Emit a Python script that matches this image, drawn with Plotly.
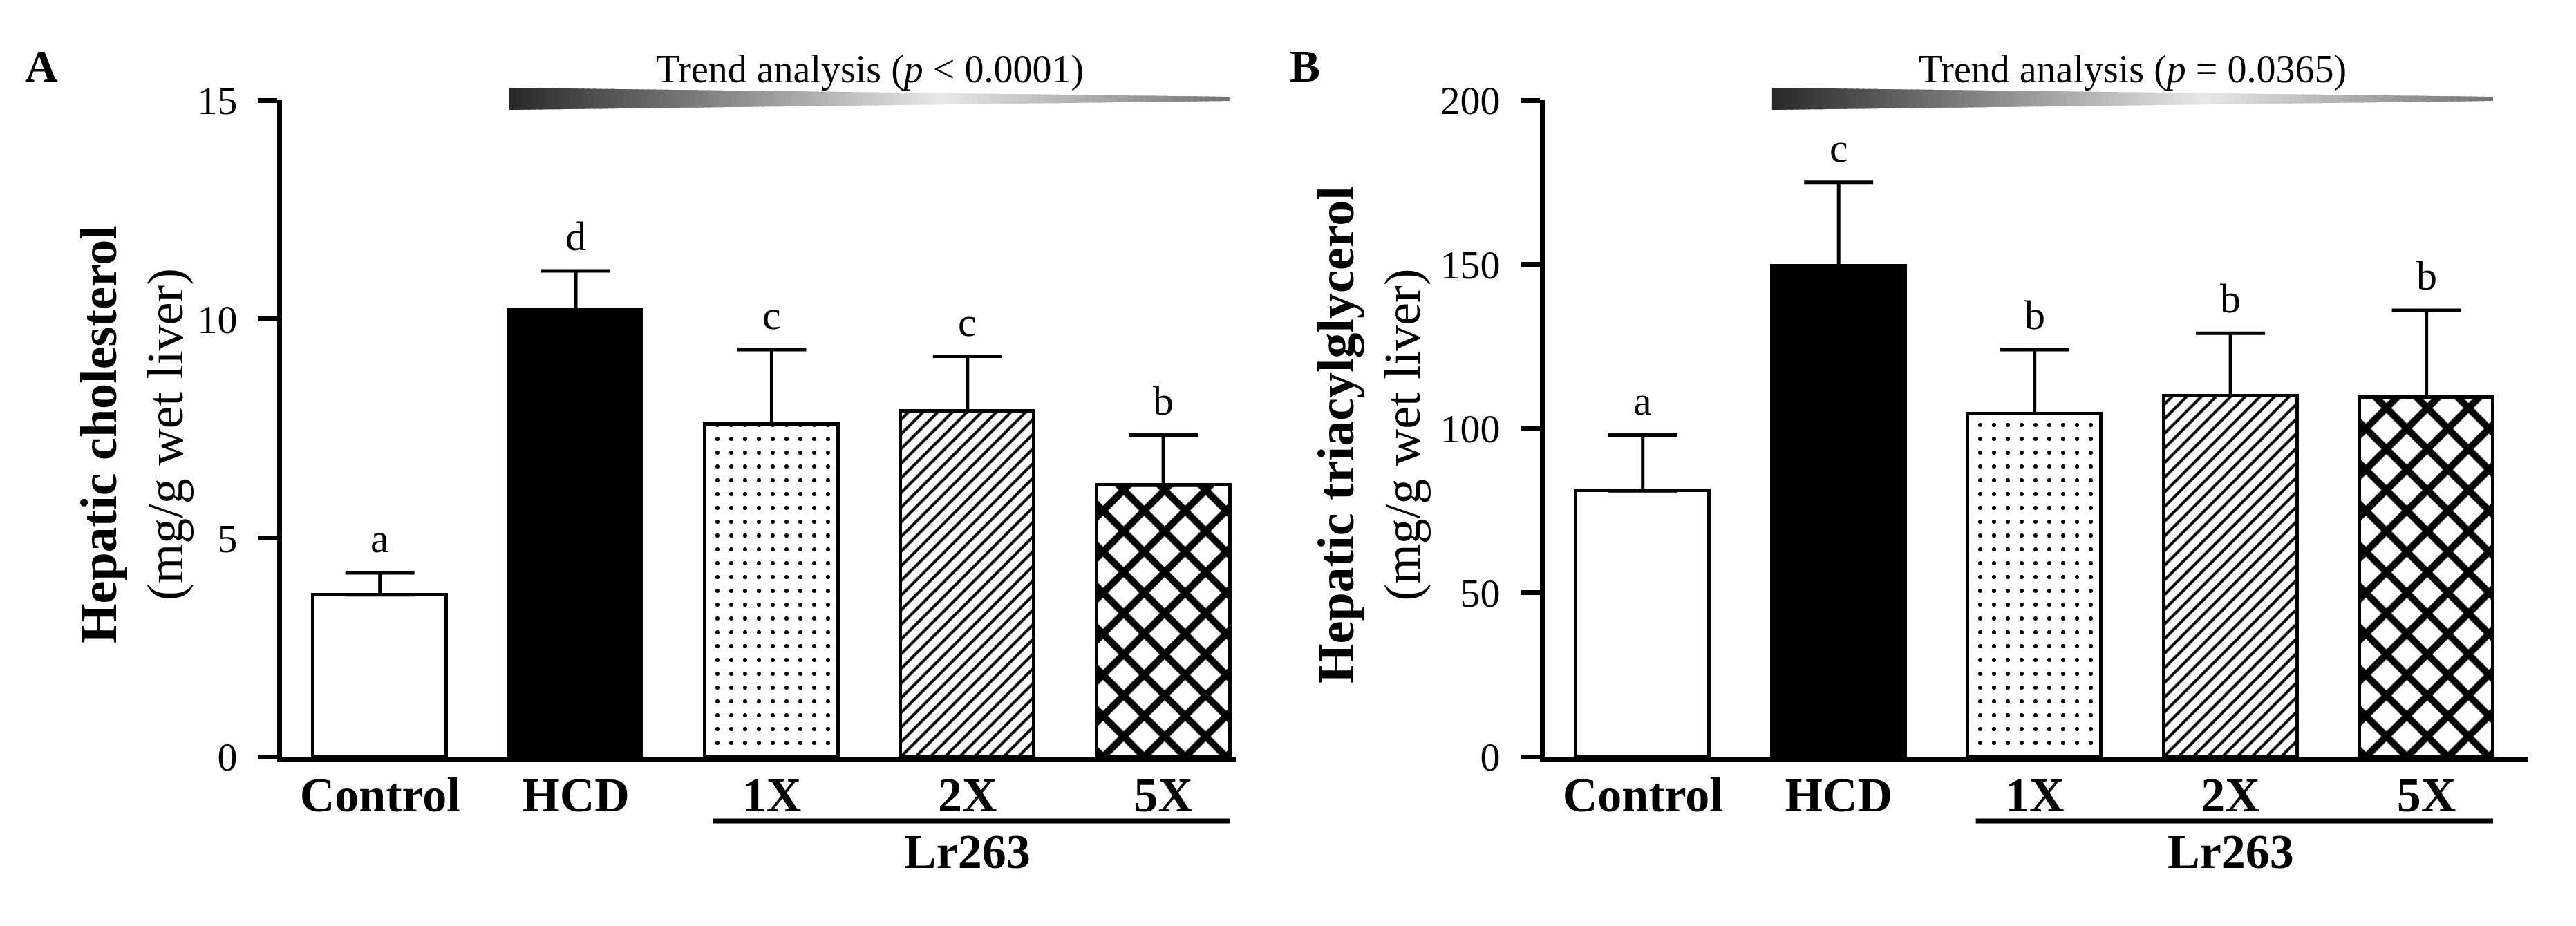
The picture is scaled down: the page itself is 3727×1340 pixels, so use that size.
import plotly.graph_objects as go

# ---------------- data ----------------
groups = ["Control", "HCD", "1X", "2X", "5X"]
chol_mean = [3.7, 10.2, 7.6, 7.9, 6.2]
chol_sem = [0.5, 0.9, 1.7, 1.25, 1.15]
chol_letters = ["a", "d", "c", "c", "b"]
chol_ticks = [0, 5, 10, 15]
chol_p = "Trend analysis (<i>p</i> &lt; 0.0001)"

tg_mean = [81, 149.5, 104.5, 110, 109.5]
tg_sem = [17, 25.5, 19.5, 19, 26.5]
tg_letters = ["a", "c", "b", "b", "b"]
tg_ticks = [0, 50, 100, 150, 200]
tg_p = "Trend analysis (<i>p</i> = 0.0365)"

lr_label = "Lr263"

# ---------------- styling ----------------
W, H = 3727, 1340
FONT = "Liberation Serif"
BAR_W = 0.68
positions = list(range(len(groups)))
fills = ["white", "black", "white", "white", "white"]
pat_shapes = ["", "", ".", "/", "x"]
pat_sizes = [10, 10, 20, 15, 42]
pat_sol = [0.3, 0.3, 0.07, 0.28, 0.42]

Y_BOT = 1 - 1095 / H
Y_TOP = 1 - 145 / H

fig = go.Figure()


def add_panel(idx, means, sems, letters, ticks, ptext, xdom, xmax, title_html, title_x, panel_letter, letter_x):
    xa = "x" if idx == 1 else f"x{idx}"
    ya = "y" if idx == 1 else f"y{idx}"
    for i in range(len(groups)):
        marker = dict(color=fills[i], line=dict(color="black", width=5))
        if pat_shapes[i]:
            marker["pattern"] = dict(shape=pat_shapes[i], fgcolor="black", bgcolor="white",
                                     size=pat_sizes[i], solidity=pat_sol[i], fillmode="replace")
        fig.add_trace(go.Bar(
            x=[positions[i]], y=[means[i]], width=BAR_W, name=groups[i],
            marker=marker,
            error_y=dict(type="data", array=[sems[i]], arrayminus=[0], symmetric=False,
                         color="black", thickness=5, width=50),
            xaxis=xa, yaxis=ya, showlegend=False, cliponaxis=False))

    axkey = "xaxis" if idx == 1 else f"xaxis{idx}"
    aykey = "yaxis" if idx == 1 else f"yaxis{idx}"
    fig.layout[axkey] = dict(
        domain=[(xdom[0] + 3) / W, xdom[1] / W], range=[-0.5, xmax], anchor=ya, automargin=False,
        tickmode="array", tickvals=positions, ticktext=groups, ticks="",
        tickfont=dict(family=FONT, size=70, color="black", weight="bold"),
        ticklabelstandoff=-12,
        showline=True, linewidth=7, linecolor="black", showgrid=False, zeroline=False)
    fig.layout[aykey] = dict(
        domain=[Y_BOT, Y_TOP], range=[0, ticks[-1]], anchor=xa, automargin=False,
        tickmode="array", tickvals=ticks, ticks="outside", ticklen=28, tickwidth=7,
        tickcolor="black", tickfont=dict(family=FONT, size=58, color="black"),
        ticklabelstandoff=18,
        showline=True, linewidth=7, linecolor="black", showgrid=False, zeroline=False)

    # significance letters
    for i, (m, s, l) in enumerate(zip(means, sems, letters)):
        fig.add_annotation(x=positions[i], y=m + s, xref=xa, yref=ya, text=l, showarrow=False,
                           yanchor="bottom", yshift=15,
                           font=dict(family=FONT, size=60, color="black"))

    # Lr263 bracket
    fig.add_shape(type="line", xref=xa, yref="paper", x0=1.70, x1=4.34,
                  y0=1 - 1188 / H, y1=1 - 1188 / H, line=dict(color="black", width=7))
    fig.add_annotation(x=positions[3], y=1 - 1232 / H, xref=xa, yref="paper", text=lr_label,
                       showarrow=False, yanchor="middle",
                       font=dict(family=FONT, size=70, color="black", weight="bold"))

    # gradient wedge (trend)
    x0w, x1w = 1 - BAR_W / 2, 4 + BAR_W / 2
    yt0, yb0 = 1 - 127 / H, 1 - 159 / H
    yt1, yb1 = 1 - 140 / H, 1 - 146 / H
    n = 120
    for k in range(n):
        t0, t1 = k / n, (k + 1) / n
        tm = (t0 + t1) / 2
        if tm < 0.6:
            g = 40 + (232 - 40) * tm / 0.6
        else:
            g = 232 + (115 - 232) * (tm - 0.6) / 0.4
        g = int(round(g))
        xa0 = x0w + (x1w - x0w) * t0
        xa1 = x0w + (x1w - x0w) * min(1.0, t1 + 0.004)
        ya_t0 = yt0 + (yt1 - yt0) * t0
        ya_t1 = yt0 + (yt1 - yt0) * t1
        ya_b0 = yb0 + (yb1 - yb0) * t0
        ya_b1 = yb0 + (yb1 - yb0) * t1
        path = f"M {xa0},{ya_t0} L {xa1},{ya_t1} L {xa1},{ya_b1} L {xa0},{ya_b0} Z"
        fig.add_shape(type="path", xref=xa, yref="paper", path=path,
                      fillcolor=f"rgb({g},{g},{g})", line=dict(width=0))
    fig.add_annotation(x=(x0w + x1w) / 2, y=1 - 134 / H, xref=xa, yref="paper", text=ptext,
                       showarrow=False, yanchor="bottom",
                       font=dict(family=FONT, size=56, color="black"))

    # y-axis title
    fig.add_annotation(x=title_x / W, y=1 - 629 / H, xref="paper", yref="paper", text=title_html,
                       textangle=-90, showarrow=False, xanchor="center", yanchor="middle",
                       align="center", font=dict(family=FONT, size=74, color="black"))
    # panel letter
    fig.add_annotation(x=letter_x / W, y=1 - 96 / H, xref="paper", yref="paper",
                       text=panel_letter, showarrow=False, xanchor="center", yanchor="middle",
                       font=dict(family=FONT, size=66, color="black", weight="bold"))


add_panel(1, chol_mean, chol_sem, chol_letters, chol_ticks, chol_p, (405, 1788), 4.37,
          "<b>Hepatic cholesterol</b><br>(mg/g wet liver)", 191, "A", 60)
add_panel(2, tg_mean, tg_sem, tg_letters, tg_ticks, tg_p, (2232, 3658), 4.52,
          "<b>Hepatic triacylglycerol</b><br>(mg/g wet liver)", 1981, "B", 1888)

fig.update_layout(template="none", width=W, height=H, margin=dict(l=0, r=0, t=0, b=0, autoexpand=False),
                  paper_bgcolor="white", plot_bgcolor="white", barmode="overlay", bargap=0,
                  font=dict(family=FONT, color="black"))

fig.write_html("out.html", config={"displayModeBar": False},
               post_script="document.body.style.margin='0px';")
